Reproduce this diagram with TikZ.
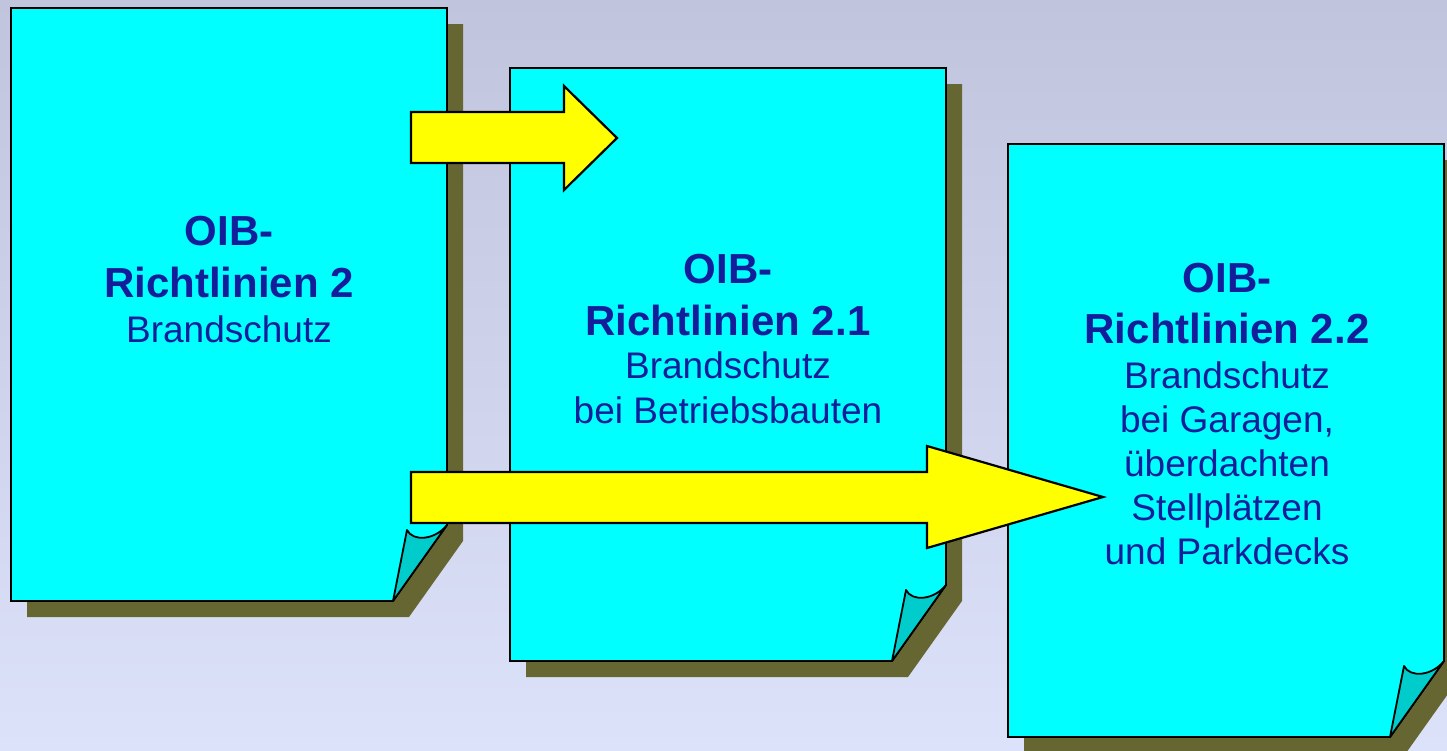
\documentclass[tikz,border=0pt]{standalone}
\usepackage{fontspec}
\setmainfont{Liberation Sans}
\definecolor{bgtop}{RGB}{192,196,220}
\definecolor{bgbot}{RGB}{220,226,250}
\definecolor{pagecyan}{RGB}{0,255,255}
\definecolor{foldcyan}{RGB}{0,204,204}
\definecolor{shadowcol}{RGB}{102,102,51}
\definecolor{txtblue}{RGB}{20,30,155}
\definecolor{arrowyellow}{RGB}{255,255,0}
\tikzset{
  pageshape/.style={fill=pagecyan,draw=black,line width=1.8pt,line join=miter},
  foldshape/.style={fill=foldcyan,draw=black,line width=1.8pt,line join=round},
  shadowshape/.style={fill=shadowcol},
  blockarrow/.style={fill=arrowyellow,draw=black,line width=2.2pt,line join=miter},
  titletxt/.style={font=\fontsize{42}{50}\selectfont\bfseries,text=txtblue,anchor=base,inner sep=0pt},
  bodytxt/.style={font=\fontsize{37}{44}\selectfont,text=txtblue,anchor=base,inner sep=0pt}
}
\newcommand\oibsheet[2]{%
  \begin{scope}[shift={(#1,#2)}]
    \fill[shadowshape] (16,16) -- (452,16) -- (452,533) -- (398,609) -- (16,609) -- cycle;
    \draw[pageshape] (0,0) -- (436,0) -- (436,517) -- (382,593) -- (0,593) -- cycle;
    \draw[foldshape] (382,593) -- (396,522) .. controls (402,534) and (424,532) .. (436,517) -- cycle;
  \end{scope}}
\begin{document}
\begin{tikzpicture}[x=1pt,y=-1pt]
\useasboundingbox (0,0) rectangle (1447,750);
\shade[top color=bgtop,bottom color=bgbot] (0,0) rectangle (1447,750);
\oibsheet{11}{8}
\oibsheet{510}{68}
\oibsheet{1008}{144}
% texts page 1
\node[titletxt] (p1a) at (229,245) {OIB-};
\node[titletxt] (p1b) at (229,297) {Richtlinien 2};
\node[bodytxt]  (p1c) at (229,342) {Brandschutz};
% texts page 2
\node[titletxt] (p2a) at (728,283) {OIB-};
\node[titletxt] (p2b) at (728,335) {Richtlinien 2.1};
\node[bodytxt]  (p2c) at (728,378) {Brandschutz};
\node[bodytxt]  (p2d) at (728,423) {bei Betriebsbauten};
% texts page 3
\node[titletxt] (p3a) at (1227,292) {OIB-};
\node[titletxt] (p3b) at (1227,343) {Richtlinien 2.2};
\node[bodytxt]  (p3c) at (1227,388) {Brandschutz};
\node[bodytxt]  (p3d) at (1227,432) {bei Garagen,};
\node[bodytxt]  (p3e) at (1227,476) {überdachten};
\node[bodytxt]  (p3f) at (1227,520) {Stellplätzen};
\node[bodytxt]  (p3g) at (1227,564) {und Parkdecks};
% arrows
\draw[blockarrow] (411,112) -- (564,112) -- (564,86) -- (617,138) -- (564,190) -- (564,163) -- (411,163) -- cycle;
\draw[blockarrow] (411,472) -- (927,472) -- (927,446) -- (1103,497) -- (927,548) -- (927,523) -- (411,523) -- cycle;
\end{tikzpicture}
\end{document}
